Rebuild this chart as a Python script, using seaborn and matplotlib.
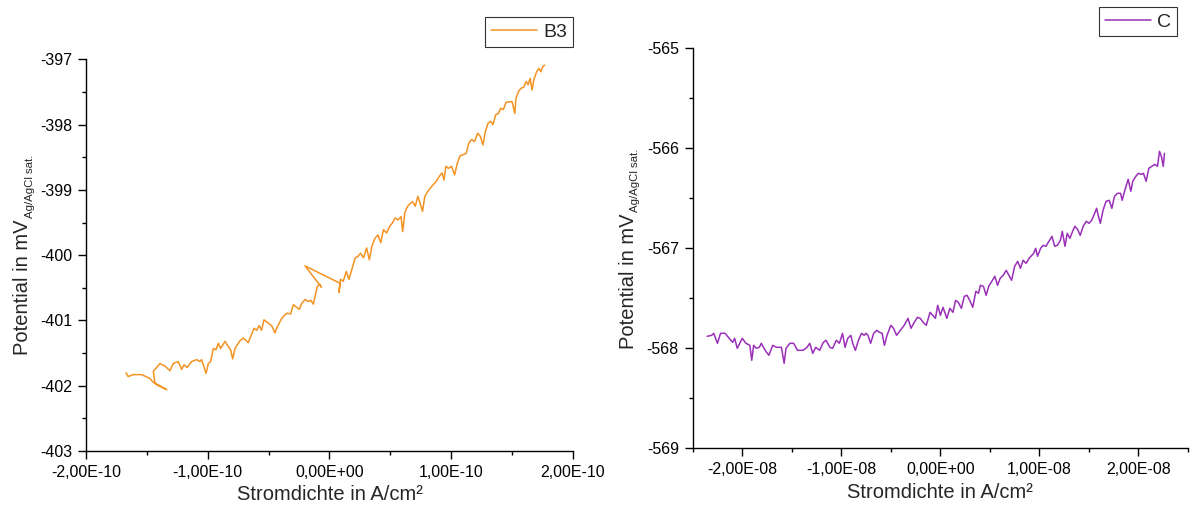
import numpy as np
import pandas as pd
import matplotlib
matplotlib.use("Agg")
import matplotlib.pyplot as plt
from matplotlib.ticker import FixedLocator, FuncFormatter
import seaborn as sns

# === Data ===
# B3: current density in units of 1e-10 A/cm², potential in mV
b3_current_e10 = [
    -1.671, -1.653, -1.612, -1.543, -1.474, -1.452, -1.406, -1.337,
    -1.433, -1.447, -1.392, -1.351, -1.310, -1.283, -1.242, -1.214,
    -1.195, -1.168, -1.132, -1.091, -1.064, -1.050, -1.014, -0.995,
    -0.976, -0.954, -0.932, -0.913, -0.894, -0.858, -0.831, -0.812,
    -0.795, -0.776, -0.735, -0.708, -0.667, -0.620, -0.598, -0.577,
    -0.557, -0.538, -0.503, -0.475, -0.448, -0.434, -0.393, -0.352,
    -0.319, -0.297, -0.269, -0.248, -0.228, -0.201, -0.174, -0.154,
    -0.133, -0.119, -0.100, -0.078, -0.066, -0.201, 0.086, 0.078,
    0.091, 0.113, 0.138, 0.160, 0.186, 0.211, 0.233, 0.255,
    0.280, 0.305, 0.327, 0.349, 0.374, 0.399, 0.421, 0.443,
    0.469, 0.494, 0.516, 0.538, 0.563, 0.588, 0.601, 0.619,
    0.642, 0.664, 0.682, 0.704, 0.726, 0.745, 0.764, 0.783,
    0.808, 0.830, 0.852, 0.877, 0.903, 0.925, 0.940, 0.956,
    0.978, 1.003, 1.028, 1.050, 1.072, 1.097, 1.123, 1.145,
    1.167, 1.192, 1.217, 1.239, 1.261, 1.280, 1.302, 1.324,
    1.343, 1.365, 1.387, 1.406, 1.428, 1.450, 1.475, 1.500,
    1.522, 1.531, 1.553, 1.575, 1.594, 1.616, 1.632, 1.648,
    1.663, 1.679, 1.701, 1.720, 1.736, 1.752, 1.767,
]
b3_potential = [
    -401.80, -401.86, -401.83, -401.83, -401.89, -401.94, -402.00, -402.06,
    -401.96, -401.78, -401.66, -401.70, -401.77, -401.66, -401.63, -401.75,
    -401.68, -401.72, -401.63, -401.60, -401.63, -401.60, -401.81, -401.66,
    -401.63, -401.43, -401.45, -401.35, -401.43, -401.32, -401.40, -401.45,
    -401.59, -401.43, -401.31, -401.27, -401.34, -401.12, -401.15, -401.08,
    -401.15, -400.99, -401.04, -401.08, -401.19, -401.12, -400.97, -400.89,
    -400.90, -400.76, -400.80, -400.83, -400.74, -400.68, -400.71, -400.69,
    -400.75, -400.64, -400.48, -400.45, -400.49, -400.165, -400.43, -400.57,
    -400.37, -400.40, -400.25, -400.37, -400.20, -400.04, -400.02, -399.97,
    -400.04, -399.89, -400.07, -399.86, -399.74, -399.69, -399.81, -399.61,
    -399.66, -399.56, -399.51, -399.43, -399.46, -399.41, -399.64, -399.35,
    -399.25, -399.21, -399.18, -399.25, -399.10, -399.21, -399.33, -399.10,
    -399.02, -398.97, -398.92, -398.87, -398.79, -398.74, -398.85, -398.64,
    -398.67, -398.64, -398.77, -398.59, -398.48, -398.46, -398.44, -398.28,
    -398.23, -398.26, -398.13, -398.18, -398.31, -398.11, -397.98, -397.95,
    -398.00, -397.85, -397.83, -397.75, -397.77, -397.66, -397.65, -397.65,
    -397.83, -397.60, -397.49, -397.44, -397.43, -397.34, -397.39, -397.29,
    -397.47, -397.31, -397.19, -397.14, -397.19, -397.11, -397.09,
]

# C: current density in units of 1e-8 A/cm², potential in mV
c_current_e8 = [
    -2.354, -2.308, -2.288, -2.250, -2.219, -2.173, -2.115, -2.096,
    -2.077, -2.050, -2.000, -1.962, -1.923, -1.904, -1.885, -1.858,
    -1.827, -1.808, -1.769, -1.731, -1.692, -1.654, -1.604, -1.577,
    -1.558, -1.519, -1.481, -1.442, -1.385, -1.346, -1.319, -1.288,
    -1.258, -1.219, -1.181, -1.154, -1.115, -1.088, -1.050, -1.019,
    -0.988, -0.962, -0.935, -0.904, -0.885, -0.858, -0.827, -0.796,
    -0.769, -0.750, -0.731, -0.704, -0.673, -0.642, -0.615, -0.588,
    -0.565, -0.538, -0.500, -0.473, -0.442, -0.404, -0.365, -0.327,
    -0.296, -0.269, -0.231, -0.204, -0.173, -0.142, -0.104, -0.077,
    -0.050, -0.027, 0.000, 0.027, 0.065, 0.096, 0.127, 0.154,
    0.181, 0.212, 0.242, 0.269, 0.296, 0.327, 0.358, 0.385,
    0.404, 0.435, 0.462, 0.488, 0.519, 0.550, 0.577, 0.604,
    0.635, 0.665, 0.692, 0.719, 0.750, 0.781, 0.808, 0.835,
    0.865, 0.896, 0.923, 0.942, 0.962, 0.981, 1.012, 1.038,
    1.065, 1.096, 1.127, 1.154, 1.181, 1.212, 1.231, 1.258,
    1.281, 1.308, 1.335, 1.358, 1.385, 1.412, 1.442, 1.473,
    1.500, 1.527, 1.558, 1.577, 1.596, 1.615, 1.642, 1.673,
    1.704, 1.731, 1.758, 1.788, 1.819, 1.835, 1.865, 1.896,
    1.923, 1.942, 1.973, 2.000, 2.027, 2.050, 2.077, 2.104,
    2.135, 2.165, 2.192, 2.212, 2.231, 2.250, 2.262,
]
c_potential = [
    -567.88, -567.87, -567.85, -567.95, -567.85, -567.85, -567.92, -567.94,
    -567.90, -568.00, -567.90, -567.95, -567.97, -568.12, -567.97, -568.00,
    -567.99, -567.95, -568.02, -568.07, -567.97, -567.99, -567.99, -568.15,
    -568.00, -567.95, -567.95, -568.02, -568.02, -567.99, -567.95, -568.05,
    -567.99, -568.02, -567.94, -567.92, -567.99, -568.00, -567.92, -567.95,
    -567.85, -567.99, -567.90, -567.87, -567.95, -568.02, -567.92, -567.85,
    -567.87, -567.85, -567.87, -567.95, -567.85, -567.82, -567.84, -567.85,
    -567.97, -567.87, -567.77, -567.80, -567.87, -567.82, -567.77, -567.70,
    -567.80, -567.75, -567.69, -567.70, -567.74, -567.77, -567.64, -567.67,
    -567.70, -567.57, -567.67, -567.59, -567.70, -567.60, -567.64, -567.52,
    -567.54, -567.60, -567.48, -567.47, -567.52, -567.59, -567.43, -567.45,
    -567.37, -567.38, -567.47, -567.38, -567.33, -567.28, -567.37, -567.30,
    -567.27, -567.22, -567.27, -567.32, -567.18, -567.13, -567.20, -567.12,
    -567.15, -567.10, -567.07, -567.05, -567.00, -567.08, -567.00, -566.97,
    -566.98, -566.93, -566.88, -566.98, -566.97, -566.92, -566.83, -566.98,
    -566.85, -566.90, -566.83, -566.78, -566.81, -566.87, -566.78, -566.73,
    -566.75, -566.72, -566.65, -566.60, -566.68, -566.75, -566.62, -566.53,
    -566.52, -566.60, -566.48, -566.45, -566.45, -566.52, -566.41, -566.31,
    -566.43, -566.33, -566.28, -566.25, -566.26, -566.25, -566.33, -566.20,
    -566.18, -566.16, -566.18, -566.03, -566.08, -566.18, -566.05,
]

df_b3 = pd.DataFrame({"current": np.array(b3_current_e10) * 1e-10, "potential": b3_potential})
df_c = pd.DataFrame({"current": np.array(c_current_e8) * 1e-8, "potential": c_potential})

# === Style ===
sns.set_style("ticks")
plt.rcParams["font.family"] = ["Liberation Sans", "DejaVu Sans"]
plt.rcParams["axes.unicode_minus"] = False

W, H = 1197, 515
fig = plt.figure(figsize=(W / 100, H / 100), dpi=100)
ax1 = fig.add_axes([0.0718, 0.1243, 0.4069, 0.7605])
ax2 = fig.add_axes([0.5787, 0.1295, 0.4138, 0.7767])

sci_fmt = FuncFormatter(lambda v, pos: f"{v:.2E}".replace(".", ","))
int_fmt = FuncFormatter(lambda v, pos: f"{v:.0f}")

xlabel = "Stromdichte in A/cm²"
ylabel_main = "Potential in mV"
ylabel_sub = "Ag/AgCl sat."


def style_axis(ax, xlim, ylim, xstep):
    ax.set_xlim(*xlim)
    ax.set_ylim(*ylim)
    for side in ["top", "right"]:
        ax.spines[side].set_visible(False)
    for side in ["left", "bottom"]:
        ax.spines[side].set_linewidth(1.0)
        ax.spines[side].set_color("black")
    # only ticks inside the view, so no hidden labels hang outside
    n = int(round(xlim[1] / xstep))
    ax.xaxis.set_major_locator(FixedLocator([k * xstep for k in range(-n, n + 1)]))
    ax.xaxis.set_minor_locator(FixedLocator([(k + 0.5) * xstep for k in range(-n - 1, n + 1)
                                             if abs((k + 0.5) * xstep) <= xlim[1] * 1.0001]))
    ax.yaxis.set_major_locator(FixedLocator(list(range(int(ylim[0]), int(ylim[1]) + 1))))
    ax.yaxis.set_minor_locator(FixedLocator([v + 0.5 for v in range(int(ylim[0]), int(ylim[1]))]))
    ax.xaxis.set_major_formatter(sci_fmt)
    ax.yaxis.set_major_formatter(int_fmt)
    ax.tick_params(which="major", direction="out", length=5.5, width=1.0,
                   labelsize=11.5, colors="black", pad=4.5)
    ax.tick_params(which="minor", direction="out", length=3, width=1.0, colors="black")
    ax.set_xlabel(xlabel, fontsize=14.5, labelpad=4)
    ax.set_ylabel("")


def potential_label(x_px, y_px):
    # main text with a smaller, lowered subscript (placed by hand)
    t = fig.text(x_px / W, y_px / H, ylabel_main, rotation=90, rotation_mode="anchor",
                 ha="left", va="baseline", fontsize=14.5)
    fig.canvas.draw()
    bb = t.get_window_extent()
    fig.text((x_px + 4.5) / W, (bb.y1 + 1) / H, ylabel_sub, rotation=90,
             rotation_mode="anchor", ha="left", va="baseline", fontsize=8.2)


def add_legend(ax, anchor):
    leg = ax.legend(loc="upper right", bbox_to_anchor=anchor, borderaxespad=0,
                    fontsize=14, fancybox=False, edgecolor="#333333", framealpha=1,
                    handlelength=2.4, handletextpad=0.3, borderpad=0.3)
    leg.get_frame().set_linewidth(0.8)


# Left panel: B3
sns.lineplot(data=df_b3, x="current", y="potential", sort=False, estimator=None,
             color="#F39322", linewidth=1.1, ax=ax1, label="B3", legend=False)
style_axis(ax1, (-2e-10, 2e-10), (-403, -397), 1e-10)
add_legend(ax1, (1.0, 1.107))

# Right panel: C
sns.lineplot(data=df_c, x="current", y="potential", sort=False, estimator=None,
             color="#9A2FB8", linewidth=1.1, ax=ax2, label="C", legend=False)
style_axis(ax2, (-2.5e-8, 2.5e-8), (-569, -565), 1e-8)
add_legend(ax2, (0.978, 1.103))

potential_label(28.5, H - 355)
potential_label(634, H - 349)

fig.savefig("out.png", dpi=100)
